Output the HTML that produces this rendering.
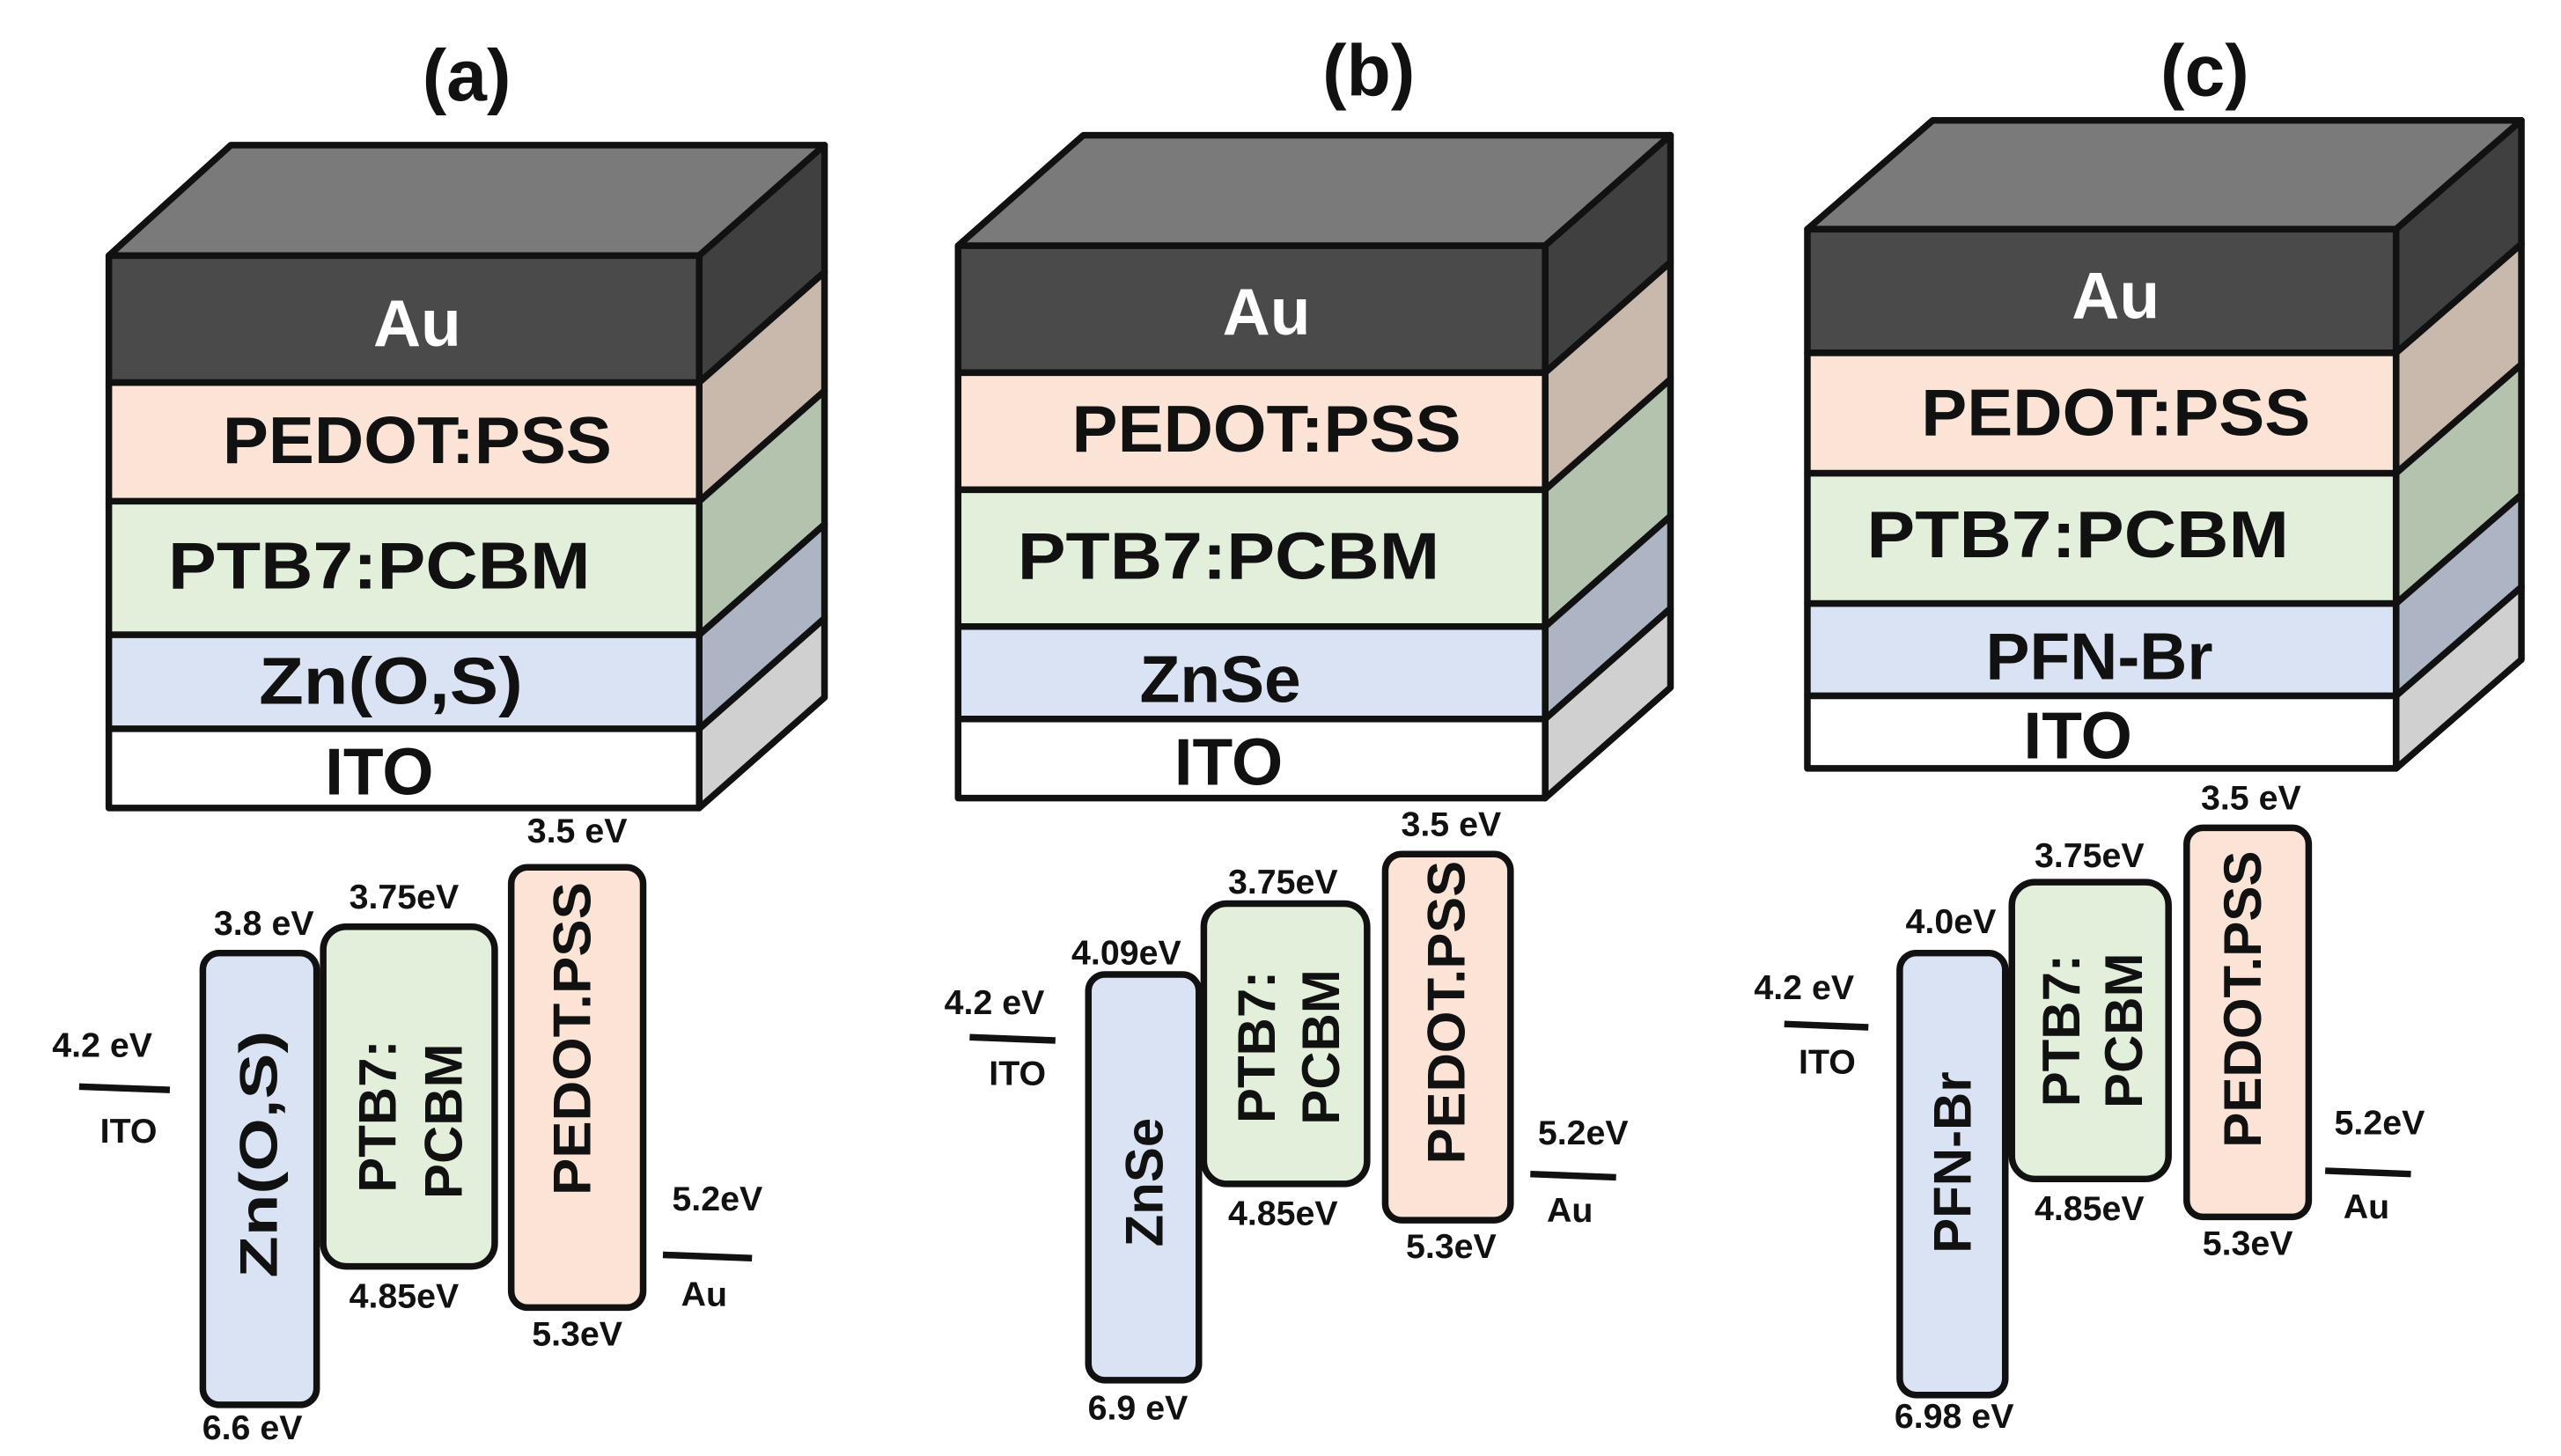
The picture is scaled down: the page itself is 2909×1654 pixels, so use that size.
<!DOCTYPE html>
<html><head><meta charset="utf-8"><style>
html,body{margin:0;padding:0;background:#fff;}
svg{display:block;}
text{font-family:"Liberation Sans",sans-serif;font-weight:bold;fill:#111;text-anchor:middle;dominant-baseline:central;}
.t{font-size:44px}
.L{font-size:40px}
.e{font-size:21px}
.v{font-size:32px}
</style></head><body>
<svg width="2909" height="1654" viewBox="0 0 1553 883" preserveAspectRatio="none" xmlns="http://www.w3.org/2000/svg">
<g stroke="#111" stroke-width="4" stroke-linejoin="round">
<polygon points="66,155 140,88 500,88 424,155" fill="#7a7a7a"/>
<polygon points="424,155 500,88 500,165 424,232" fill="#404040"/>
<polygon points="424,232 500,165 500,237 424,304" fill="#c9b8ac"/>
<polygon points="424,304 500,237 500,318 424,385" fill="#b4c3ae"/>
<polygon points="424,385 500,318 500,375 424,442" fill="#adb5c5"/>
<polygon points="424,442 500,375 500,423 424,490" fill="#d0d0d0"/>
<rect x="66" y="155" width="358" height="77" fill="#4a4a4a"/>
<rect x="66" y="232" width="358" height="72" fill="#fbe4d6"/>
<rect x="66" y="304" width="358" height="81" fill="#e2efda"/>
<rect x="66" y="385" width="358" height="57" fill="#dae3f3"/>
<rect x="66" y="442" width="358" height="48" fill="#fff"/>
<polygon points="581,149 657,82 1013,82 937,149" fill="#7a7a7a"/>
<polygon points="937,149 1013,82 1013,159 937,226" fill="#404040"/>
<polygon points="937,226 1013,159 1013,230 937,297" fill="#c9b8ac"/>
<polygon points="937,297 1013,230 1013,313 937,380" fill="#b4c3ae"/>
<polygon points="937,380 1013,313 1013,369 937,436" fill="#adb5c5"/>
<polygon points="937,436 1013,369 1013,417 937,484" fill="#d0d0d0"/>
<rect x="581" y="149" width="356" height="77" fill="#4a4a4a"/>
<rect x="581" y="226" width="356" height="71" fill="#fbe4d6"/>
<rect x="581" y="297" width="356" height="83" fill="#e2efda"/>
<rect x="581" y="380" width="356" height="56" fill="#dae3f3"/>
<rect x="581" y="436" width="356" height="48" fill="#fff"/>
<polygon points="1096,139 1172,73 1529,73 1453,139" fill="#7a7a7a"/>
<polygon points="1453,139 1529,73 1529,148 1453,214" fill="#404040"/>
<polygon points="1453,214 1529,148 1529,221 1453,287" fill="#c9b8ac"/>
<polygon points="1453,287 1529,221 1529,300 1453,366" fill="#b4c3ae"/>
<polygon points="1453,366 1529,300 1529,356 1453,422" fill="#adb5c5"/>
<polygon points="1453,422 1529,356 1529,400 1453,466" fill="#d0d0d0"/>
<rect x="1096" y="139" width="357" height="75" fill="#4a4a4a"/>
<rect x="1096" y="214" width="357" height="73" fill="#fbe4d6"/>
<rect x="1096" y="287" width="357" height="79" fill="#e2efda"/>
<rect x="1096" y="366" width="357" height="56" fill="#dae3f3"/>
<rect x="1096" y="422" width="357" height="44" fill="#fff"/>
<rect x="123" y="578" width="69" height="274" rx="10" fill="#dae3f3"/>
<rect x="196" y="562" width="104" height="206" rx="14" fill="#e2efda"/>
<rect x="310" y="526" width="80" height="267" rx="10" fill="#fbe4d6"/>
<rect x="660" y="591" width="67" height="246" rx="10" fill="#dae3f3"/>
<rect x="730" y="548" width="99" height="170" rx="14" fill="#e2efda"/>
<rect x="840" y="518" width="76" height="222" rx="10" fill="#fbe4d6"/>
<rect x="1152" y="578" width="64" height="268" rx="10" fill="#dae3f3"/>
<rect x="1220" y="535" width="95" height="180" rx="14" fill="#e2efda"/>
<rect x="1326" y="502" width="74" height="236" rx="10" fill="#fbe4d6"/>
<line x1="48" y1="659" x2="103" y2="661"/>
<line x1="402" y1="761" x2="456" y2="763"/>
<line x1="588" y1="629" x2="640" y2="631"/>
<line x1="928" y1="712" x2="980" y2="714"/>
<line x1="1082" y1="621" x2="1133" y2="623"/>
<line x1="1410" y1="710" x2="1462" y2="712"/>
</g>
<text class="t" x="283" y="46">(a)</text>
<text class="t" x="830" y="43">(b)</text>
<text class="t" x="1337" y="43">(c)</text>
<text class="L" x="253" y="196" style="fill:#fff">Au</text>
<text class="L" x="253" y="267" textLength="236" lengthAdjust="spacingAndGlyphs">PEDOT:PSS</text>
<text class="L" x="230" y="343" textLength="256" lengthAdjust="spacingAndGlyphs">PTB7:PCBM</text>
<text class="L" x="237" y="413" textLength="160" lengthAdjust="spacingAndGlyphs">Zn(O,S)</text>
<text class="L" x="230" y="468">ITO</text>
<text class="L" x="768" y="189" style="fill:#fff">Au</text>
<text class="L" x="768" y="260" textLength="236" lengthAdjust="spacingAndGlyphs">PEDOT:PSS</text>
<text class="L" x="745" y="337" textLength="256" lengthAdjust="spacingAndGlyphs">PTB7:PCBM</text>
<text class="L" x="740" y="412">ZnSe</text>
<text class="L" x="745" y="462">ITO</text>
<text class="L" x="1283" y="179" style="fill:#fff">Au</text>
<text class="L" x="1283" y="250" textLength="236" lengthAdjust="spacingAndGlyphs">PEDOT:PSS</text>
<text class="L" x="1260" y="324" textLength="256" lengthAdjust="spacingAndGlyphs">PTB7:PCBM</text>
<text class="L" x="1273" y="398">PFN-Br</text>
<text class="L" x="1260" y="446">ITO</text>
<text class="e" x="62" y="634">4.2 eV</text>
<text class="e" x="78" y="686">ITO</text>
<text class="e" x="160" y="560">3.8 eV</text>
<text class="e" x="153" y="866">6.6 eV</text>
<text class="e" x="245" y="544">3.75eV</text>
<text class="e" x="245" y="786">4.85eV</text>
<text class="e" x="350" y="504">3.5 eV</text>
<text class="e" x="350" y="809">5.3eV</text>
<text class="e" x="435" y="727">5.2eV</text>
<text class="e" x="427" y="785">Au</text>
<text class="e" x="603" y="608">4.2 eV</text>
<text class="e" x="617" y="651">ITO</text>
<text class="e" x="683" y="578">4.09eV</text>
<text class="e" x="690" y="854">6.9 eV</text>
<text class="e" x="778" y="535">3.75eV</text>
<text class="e" x="778" y="736">4.85eV</text>
<text class="e" x="880" y="500">3.5 eV</text>
<text class="e" x="880" y="756">5.3eV</text>
<text class="e" x="960" y="687">5.2eV</text>
<text class="e" x="952" y="734">Au</text>
<text class="e" x="1094" y="599">4.2 eV</text>
<text class="e" x="1108" y="644">ITO</text>
<text class="e" x="1183" y="559">4.0eV</text>
<text class="e" x="1185" y="859">6.98 eV</text>
<text class="e" x="1267" y="519">3.75eV</text>
<text class="e" x="1267" y="733">4.85eV</text>
<text class="e" x="1365" y="484">3.5 eV</text>
<text class="e" x="1363" y="754">5.3eV</text>
<text class="e" x="1443" y="681">5.2eV</text>
<text class="e" x="1435" y="732">Au</text>
<text class="v" transform="translate(157,700) rotate(-90)" textLength="150" lengthAdjust="spacingAndGlyphs">Zn(O,S)</text>
<text class="v" transform="translate(229,677) rotate(-90)">PTB7:</text>
<text class="v" transform="translate(269,680) rotate(-90)">PCBM</text>
<text class="v" transform="translate(347,630) rotate(-90)" textLength="190" lengthAdjust="spacingAndGlyphs">PEDOT.PSS</text>
<text class="v" transform="translate(694,717) rotate(-90)">ZnSe</text>
<text class="v" transform="translate(762,635) rotate(-90)">PTB7:</text>
<text class="v" transform="translate(801,635) rotate(-90)">PCBM</text>
<text class="v" transform="translate(877,614) rotate(-90)" textLength="184" lengthAdjust="spacingAndGlyphs">PEDOT.PSS</text>
<text class="v" transform="translate(1184,705) rotate(-90)">PFN-Br</text>
<text class="v" transform="translate(1250,625) rotate(-90)">PTB7:</text>
<text class="v" transform="translate(1288,625) rotate(-90)">PCBM</text>
<text class="v" transform="translate(1360,606) rotate(-90)" textLength="180" lengthAdjust="spacingAndGlyphs">PEDOT.PSS</text>
</svg>
</body></html>
